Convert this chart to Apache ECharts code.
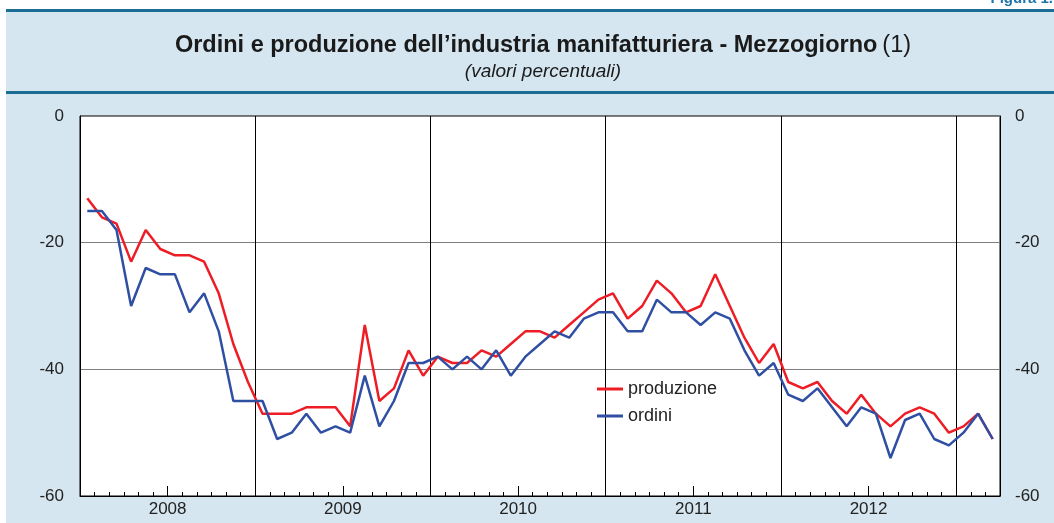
<!DOCTYPE html>
<html>
<head>
<meta charset="utf-8">
<script src="https://cdn.jsdelivr.net/npm/echarts@6/dist/echarts.min.js"></script>
<style>
html,body{margin:0;padding:0;background:#fff;}
#c{width:1054px;height:523px;}
</style>
</head>
<body>
<div id="c"></div>
<script>
// Monthly, Jan 2008 - Mar 2013
const months = [];
for (let y = 2008; y <= 2013; y++) {
  for (let m = 1; m <= 12; m++) {
    if (y === 2013 && m > 3) break;
    months.push(y + '-' + (m < 10 ? '0' + m : m));
  }
}
const years = ['2008', '2009', '2010', '2011', '2012'];
const yTicks = [0, -20, -40, -60];

const produzione = [
  -13, -16, -17, -23, -18, -21, -22, -22, -23, -28, -36, -42,
  -47, -47, -47, -46, -46, -46, -49, -33, -45, -43, -37, -41,
  -38, -39, -39, -37, -38, -36, -34, -34, -35, -33, -31, -29,
  -28, -32, -30, -26, -28, -31, -30, -25, -30, -35, -39, -36,
  -42, -43, -42, -45, -47, -44, -47, -49, -47, -46, -47, -50,
  -49, -47, -51
];
const ordini = [
  -15, -15, -18, -30, -24, -25, -25, -31, -28, -34, -45, -45,
  -45, -51, -50, -47, -50, -49, -50, -41, -49, -45, -39, -39,
  -38, -40, -38, -40, -37, -41, -38, -36, -34, -35, -32, -31,
  -31, -34, -34, -29, -31, -31, -33, -31, -32, -37, -41, -39,
  -44, -45, -43, -46, -49, -46, -47, -54, -48, -47, -51, -52,
  -50, -47, -51
];

const chart = echarts.init(document.getElementById('c'));
const FONT = 'Liberation Sans, Arial, sans-serif';
const yMin = yTicks[yTicks.length - 1], yMax = yTicks[0];

chart.setOption({
  backgroundColor: '#ffffff',
  animation: false,
  textStyle: { fontFamily: FONT },
  graphic: { elements: [
    { type: 'rect', z: -100, shape: { x: 6, y: 10, width: 1048, height: 513 }, style: { fill: '#d5e6f0' } },
    { type: 'rect', z: -99, shape: { x: 6, y: 9, width: 1048, height: 3 }, style: { fill: '#1c6d93' } },
    { type: 'rect', z: -99, shape: { x: 6, y: 91, width: 1048, height: 3 }, style: { fill: '#1c6d93' } },
    { type: 'text', z: 10, x: 1053, y: -9, style: { text: 'Figura 1.', fill: '#1c75a8', font: 'bold 15px ' + FONT, textAlign: 'right' } }
  ]},
  title: {
    left: 538, top: 29, textAlign: 'center', itemGap: 4,
    text: '{b|Ordini e produzione dell\u2019industria manifatturiera - Mezzogiorno} {n|(1)}',
    textStyle: {
      rich: {
        b: { fontSize: 23.5, fontWeight: 'bold', color: '#1a1a1a', fontFamily: FONT },
        n: { fontSize: 23.5, fontWeight: 'normal', color: '#1a1a1a', fontFamily: FONT }
      }
    },
    subtext: '(valori percentuali)',
    subtextStyle: { fontSize: 19, fontStyle: 'italic', color: '#1a1a1a', fontFamily: FONT }
  },
  grid: {
    left: 80, right: 54, top: 116, bottom: 27,
    show: true, backgroundColor: '#ffffff', borderColor: '#000', borderWidth: 1,
    containLabel: false
  },
  legend: {
    orient: 'vertical', left: 597, top: 380, itemGap: 9, padding: 0,
    itemWidth: 26, itemHeight: 3, icon: 'rect',
    textStyle: { fontSize: 18, color: '#222', fontFamily: FONT },
    data: ['produzione', 'ordini']
  },
  xAxis: [
    {
      type: 'category', data: months, boundaryGap: true, position: 'bottom',
      axisLine: { show: true, onZero: false, lineStyle: { color: '#000', width: 1 } },
      axisTick: { show: true, inside: true, length: 4, interval: 0, lineStyle: { color: '#000', width: 1 } },
      axisLabel: { show: false },
      splitLine: { show: true, interval: (i) => i % 12 === 0 && i > 0, lineStyle: { color: '#000', width: 1 } }
    },
    {
      type: 'value', min: 0, max: months.length, interval: 6, position: 'bottom',
      axisLine: { show: false, onZero: false },
      axisTick: { show: true, inside: true, length: 10, lineStyle: { color: '#000', width: 1 } },
      axisLabel: {
        show: true, margin: 5, fontSize: 17, color: '#222', fontFamily: FONT,
        showMinLabel: true, showMaxLabel: true,
        formatter: (v) => (v % 12 === 6 && years[(v - 6) / 12]) ? years[(v - 6) / 12] : ''
      },
      splitLine: { show: false }
    }
  ],
  yAxis: [
    {
      type: 'value', min: yMin, max: yMax, interval: 20, position: 'left',
      axisLine: { show: true, onZero: false, lineStyle: { color: '#000' } },
      axisTick: { show: false },
      axisLabel: { fontSize: 17, color: '#222', margin: 16, fontFamily: FONT },
      splitLine: { show: true, lineStyle: { color: '#7f7f7f', width: 1 } }
    },
    {
      type: 'value', min: yMin, max: yMax, interval: 20, position: 'right',
      axisLine: { show: true, onZero: false, lineStyle: { color: '#000' } },
      axisTick: { show: false },
      axisLabel: { fontSize: 17, color: '#222', margin: 15, fontFamily: FONT },
      splitLine: { show: false }
    }
  ],
  series: [
    {
      name: 'produzione', type: 'line', data: produzione, xAxisIndex: 0, yAxisIndex: 0,
      symbol: 'none', color: '#ee1d25', lineStyle: { width: 2.5, color: '#ee1d25' }, z: 3
    },
    {
      name: 'ordini', type: 'line', data: ordini, xAxisIndex: 0, yAxisIndex: 0,
      symbol: 'none', color: '#2f4fa2', lineStyle: { width: 2.5, color: '#2f4fa2' }, z: 4
    }
  ]
});
</script>
</body>
</html>
